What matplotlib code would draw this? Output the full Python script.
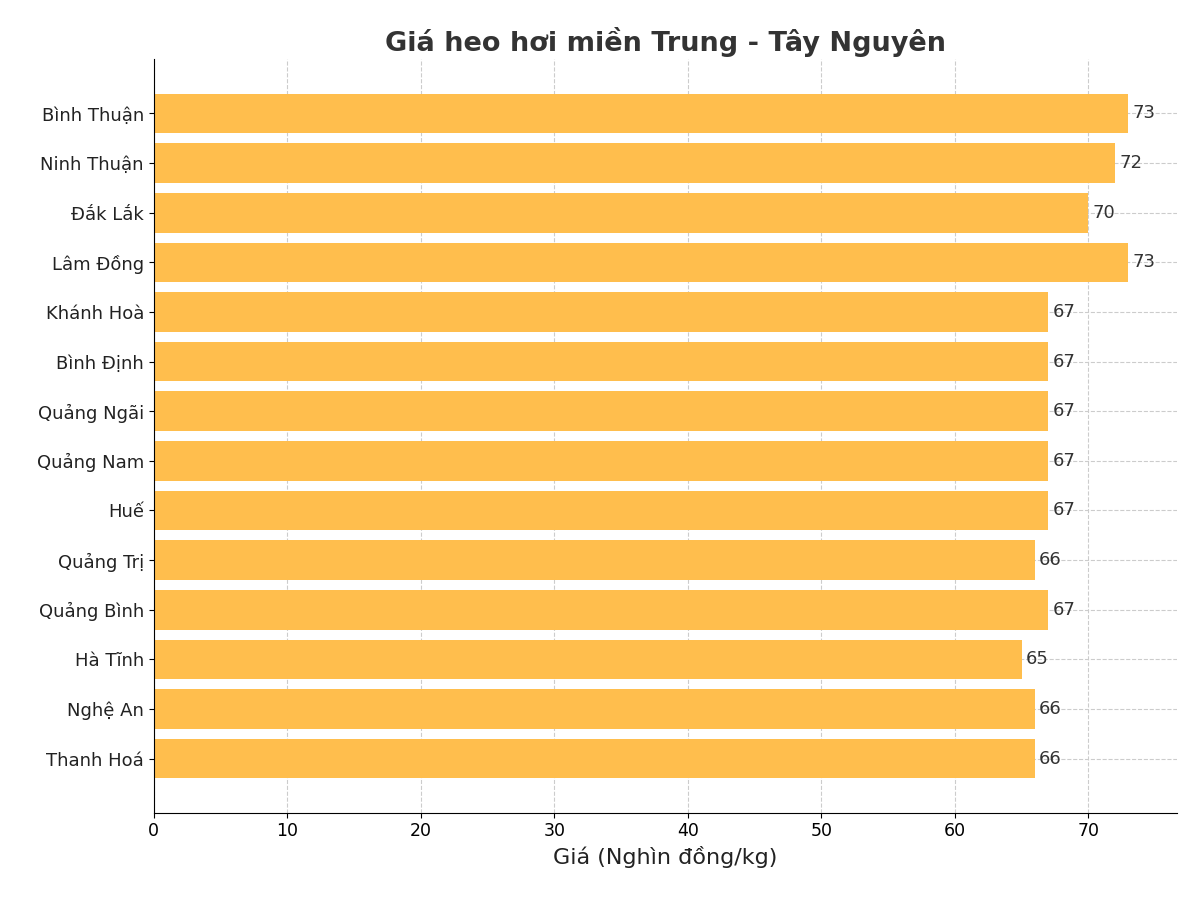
import matplotlib
matplotlib.use("Agg")
import matplotlib.pyplot as plt

provinces = ["Bình Thuận", "Ninh Thuận", "Đắk Lắk", "Lâm Đồng", "Khánh Hoà", "Bình Định",
             "Quảng Ngãi", "Quảng Nam", "Huế", "Quảng Trị", "Quảng Bình", "Hà Tĩnh",
             "Nghệ An", "Thanh Hoá"]
prices = [73, 72, 70, 73, 67, 67, 67, 67, 67, 66, 67, 65, 66, 66]

fig, ax = plt.subplots(figsize=(12, 9), dpi=100)
fig.subplots_adjust(left=0.128, right=0.981, top=0.934, bottom=0.097)
y = list(range(len(provinces)))[::-1]
bars = ax.barh(y, prices, height=0.8, color="#FFBE4D", zorder=2)
ax.set_yticks(y)
ax.set_yticklabels(provinces, fontsize=13, color="#222222")
ax.tick_params(axis="x", labelsize=12.5)
for b, v in zip(bars, prices):
    ax.text(b.get_width() + 0.3, b.get_y() + b.get_height() / 2, str(v),
            va="center", ha="left", fontsize=13, color="#333333")
ax.grid(True, linestyle="--", color="#cccccc", linewidth=0.8, zorder=0)
ax.set_axisbelow(True)
ax.spines["top"].set_visible(False)
ax.spines["right"].set_visible(False)
ax.set_xlabel("Giá (Nghìn đồng/kg)", fontsize=16, color="#222222")
ax.set_title("Giá heo hơi miền Trung - Tây Nguyên", fontsize=19.5, fontweight="bold", color="#333333")
fig.savefig("out.png", dpi=100)
